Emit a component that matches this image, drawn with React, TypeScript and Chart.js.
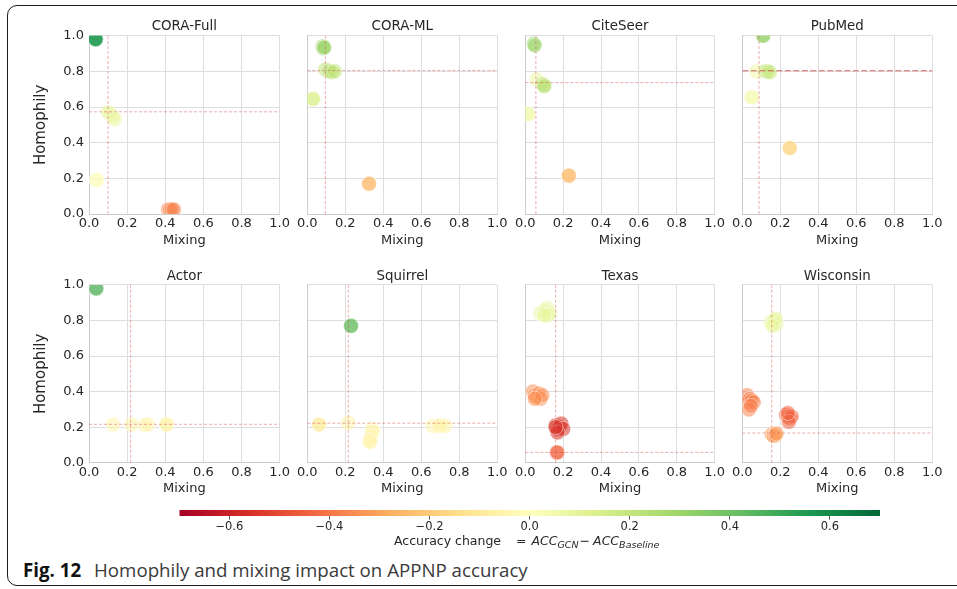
import React, { useEffect, useRef } from "react";
import { Chart, registerables } from "chart.js";
Chart.register(...registerables);

// ---------------- DATA ----------------
const panelTitles = ["CORA-Full", "CORA-ML", "CiteSeer", "PubMed", "Actor", "Squirrel", "Texas", "Wisconsin"];
const axisTicks = [0, 0.2, 0.4, 0.6, 0.8, 1.0];
const colorbarTicks = [-0.6, -0.4, -0.2, 0, 0.2, 0.4, 0.6];
const colorbarMin = -0.7;
const colorbarMax = 0.7;

const meanMixing = [0.1, 0.095, 0.056, 0.088, 0.218, 0.216, 0.16, 0.155];
const meanHomophily = [0.573, 0.805, 0.737, 0.803, 0.216, 0.222, 0.058, 0.167];

const coraFullMixing = [0.035, 0.035, 0.035, 0.10, 0.11, 0.125, 0.135, 0.04, 0.04, 0.415, 0.425, 0.435, 0.445];
const coraFullHomophily = [0.98, 0.98, 0.98, 0.57, 0.565, 0.545, 0.53, 0.19, 0.19, 0.025, 0.025, 0.025, 0.025];
const coraFullChange = [0.55, 0.55, 0.55, 0.10, 0.09, 0.08, 0.07, 0.01, 0.01, -0.37, -0.37, -0.37, -0.37];

const coraMlMixing = [0.08, 0.085, 0.09, 0.095, 0.11, 0.12, 0.13, 0.145, 0.03, 0.03, 0.325, 0.325];
const coraMlHomophily = [0.94, 0.93, 0.935, 0.81, 0.805, 0.80, 0.795, 0.80, 0.645, 0.645, 0.17, 0.17];
const coraMlChange = [0.3, 0.32, 0.3, 0.2, 0.22, 0.25, 0.22, 0.2, 0.13, 0.13, -0.24, -0.24];

const citeSeerMixing = [0.045, 0.05, 0.06, 0.09, 0.1, 0.1, 0.015, 0.015, 0.23, 0.23];
const citeSeerHomophily = [0.955, 0.945, 0.755, 0.73, 0.715, 0.72, 0.56, 0.56, 0.215, 0.215];
const citeSeerChange = [0.3, 0.3, 0.07, 0.2, 0.22, 0.22, 0.06, 0.06, -0.25, -0.25];

const pubMedMixing = [0.11, 0.11, 0.075, 0.12, 0.135, 0.145, 0.05, 0.05, 0.25, 0.25];
const pubMedHomophily = [1.0, 1.0, 0.80, 0.80, 0.80, 0.795, 0.655, 0.655, 0.37, 0.37];
const pubMedChange = [0.32, 0.32, 0.06, 0.2, 0.2, 0.18, 0.04, 0.04, -0.17, -0.17];

const actorMixing = [0.038, 0.038, 0.127, 0.223, 0.293, 0.31, 0.407, 0.407];
const actorHomophily = [0.98, 0.98, 0.215, 0.215, 0.212, 0.215, 0.215, 0.215];
const actorChange = [0.45, 0.45, -0.05, -0.05, -0.05, -0.04, -0.05, -0.05];

const squirrelMixing = [0.23, 0.23, 0.062, 0.062, 0.216, 0.34, 0.345, 0.335, 0.33, 0.33, 0.66, 0.69, 0.70, 0.725];
const squirrelHomophily = [0.77, 0.77, 0.215, 0.215, 0.225, 0.19, 0.175, 0.15, 0.125, 0.115, 0.207, 0.205, 0.21, 0.207];
const squirrelChange = [0.42, 0.42, -0.08, -0.08, -0.06, -0.05, -0.05, -0.06, -0.06, -0.06, -0.05, -0.06, -0.06, -0.05];

const texasMixing = [0.08, 0.10, 0.115, 0.13, 0.12, 0.10, 0.04, 0.05, 0.06, 0.07, 0.08, 0.09, 0.05, 0.16, 0.17, 0.18, 0.19, 0.20, 0.17, 0.16, 0.165, 0.17];
const texasHomophily = [0.84, 0.85, 0.87, 0.84, 0.83, 0.83, 0.40, 0.38, 0.37, 0.39, 0.36, 0.38, 0.36, 0.21, 0.19, 0.20, 0.22, 0.19, 0.17, 0.20, 0.058, 0.058];
const texasChange = [0.08, 0.08, 0.08, 0.08, 0.08, 0.08, -0.35, -0.35, -0.35, -0.35, -0.35, -0.35, -0.35, -0.55, -0.55, -0.55, -0.55, -0.55, -0.55, -0.55, -0.44, -0.44];

const wisconsinMixing = [0.15, 0.17, 0.18, 0.175, 0.16, 0.025, 0.03, 0.04, 0.05, 0.06, 0.035, 0.045, 0.23, 0.24, 0.25, 0.26, 0.245, 0.24, 0.155, 0.165, 0.175, 0.18];
const wisconsinHomophily = [0.79, 0.80, 0.78, 0.81, 0.77, 0.38, 0.34, 0.36, 0.35, 0.34, 0.30, 0.32, 0.27, 0.26, 0.25, 0.26, 0.23, 0.28, 0.16, 0.15, 0.155, 0.165];
const wisconsinChange = [0.08, 0.08, 0.08, 0.08, 0.08, -0.38, -0.38, -0.38, -0.38, -0.38, -0.38, -0.38, -0.44, -0.44, -0.44, -0.44, -0.44, -0.44, -0.32, -0.32, -0.32, -0.32];

const panelMixing = [coraFullMixing, coraMlMixing, citeSeerMixing, pubMedMixing, actorMixing, squirrelMixing, texasMixing, wisconsinMixing];
const panelHomophily = [coraFullHomophily, coraMlHomophily, citeSeerHomophily, pubMedHomophily, actorHomophily, squirrelHomophily, texasHomophily, wisconsinHomophily];
const panelChange = [coraFullChange, coraMlChange, citeSeerChange, pubMedChange, actorChange, squirrelChange, texasChange, wisconsinChange];

// ---------------- STYLE / LAYOUT ----------------
const FONT = "'DejaVu Sans', sans-serif";
const TEXT = "#262626";
const GRID = "#dedede";
const SPINE = "#cccccc";
const REF_LINE = "rgba(215, 70, 70, 0.5)";
const REF_LINE_STRONG = "rgba(200, 50, 50, 0.75)";
const POINT_ALPHA = 0.55;

const COL_LEFT = [89, 307.3, 525.3, 742.3];
const COL_WIDTH = [191, 190, 189.7, 190];
const ROW_TOP = [35.7, 285];
const ROW_HEIGHT = [178.3, 177.7];
const TITLE_H = 18;
const XAXIS_H = 36;
const RIGHT_PAD = 12;

const RDYLGN = ["#a50026", "#d73027", "#f46d43", "#fdae61", "#fee08b", "#ffffbf", "#d9ef8b", "#a6d96a", "#66bd63", "#1a9850", "#006837"];

function hexToRgb(h: string): number[] {
  const n = parseInt(h.slice(1), 16);
  return [(n >> 16) & 255, (n >> 8) & 255, n & 255];
}
const CMAP = RDYLGN.map(hexToRgb);

function cmapRgb(v: number): number[] {
  let t = (v - colorbarMin) / (colorbarMax - colorbarMin);
  t = Math.max(0, Math.min(1, t));
  const pos = t * (CMAP.length - 1);
  const i = Math.min(CMAP.length - 2, Math.floor(pos));
  const f = pos - i;
  return CMAP[i].map((c, k) => c + (CMAP[i + 1][k] - c) * f);
}
function rgba(c: number[], a: number) {
  return `rgba(${Math.round(c[0])},${Math.round(c[1])},${Math.round(c[2])},${a})`;
}

function fmtTick(v: number) {
  const r = Math.round(v * 10) / 10;
  if (r < 0) return "\u2212" + Math.abs(r).toFixed(1);
  return r.toFixed(1);
}

function Panel({ index }: { index: number }) {
  const ref = useRef<HTMLCanvasElement>(null);
  const col = index % 4;
  const row = Math.floor(index / 4);
  const plotLeft = COL_LEFT[col];
  const plotW = COL_WIDTH[col];
  const plotTop = ROW_TOP[row];
  const plotH = ROW_HEIGHT[row];
  const yw = col === 0 ? 69 : 14;
  const cLeft = Math.floor(plotLeft - yw);
  const cTop = Math.floor(plotTop - TITLE_H);
  const cRight = Math.ceil(plotLeft + plotW + RIGHT_PAD);
  const cBottom = Math.ceil(plotTop + plotH + XAXIS_H);
  const w = cRight - cLeft;
  const h = cBottom - cTop;
  const padL = plotLeft - yw - cLeft;
  const padT = plotTop - TITLE_H - cTop;
  const padR = cRight - (plotLeft + plotW);
  const padB = cBottom - (plotTop + plotH + XAXIS_H);

  useEffect(() => {
    const mix = panelMixing[index];
    const hom = panelHomophily[index];
    const chg = panelChange[index];
    const pts = mix.map((x, i) => ({ x, y: hom[i] }));
    const colors = chg.map((c) => rgba(cmapRgb(c), POINT_ALPHA));
    const mm = meanMixing[index];
    const mh = meanHomophily[index];
    const strongH = index === 3;
    const chart = new Chart(ref.current as HTMLCanvasElement, {
      type: "scatter",
      data: {
        datasets: [
          {
            data: [{ x: mm, y: 0 }, { x: mm, y: 1 }],
            showLine: true,
            borderColor: REF_LINE,
            borderWidth: 0.9,
            borderDash: [3, 2],
            pointRadius: 0,
            clip: 0,
          } as any,
          {
            data: [{ x: 0, y: mh }, { x: 1, y: mh }],
            showLine: true,
            borderColor: strongH ? REF_LINE_STRONG : REF_LINE,
            borderWidth: strongH ? 1.1 : 0.9,
            borderDash: strongH ? [6, 2.5] : [3, 2],
            pointRadius: 0,
            clip: 0,
          } as any,
          {
            data: pts,
            pointRadius: 7.5,
            pointBackgroundColor: colors,
            pointBorderColor: "rgba(255,255,255,0.6)",
            pointBorderWidth: 0.8,
            clip: 0,
          } as any,
        ],
      },
      options: {
        animation: false,
        responsive: false,
        maintainAspectRatio: false,
        events: [],
        layout: { padding: { left: padL, top: padT, right: padR, bottom: padB } },
        plugins: {
          legend: { display: false },
          tooltip: { enabled: false },
          title: {
            display: true,
            fullSize: false,
            text: panelTitles[index],
            color: TEXT,
            font: { family: FONT, size: 13.4, weight: "normal" },
            padding: { top: 1, bottom: 0.9 },
          },
        },
        scales: {
          x: {
            type: "linear",
            min: 0,
            max: 1,
            afterBuildTicks: (s: any) => {
              s.ticks = axisTicks.map((v) => ({ value: v }));
            },
            afterFit: (s: any) => {
              s.height = XAXIS_H;
            },
            ticks: {
              callback: (v: any) => fmtTick(Number(v)),
              color: TEXT,
              font: { family: FONT, size: 13 },
              padding: 2,
              maxRotation: 0,
              autoSkip: false,
            },
            grid: { color: GRID, lineWidth: 1, drawTicks: false },
            border: { color: SPINE, width: 1 },
            title: {
              display: true,
              text: "Mixing",
              color: TEXT,
              font: { family: FONT, size: 13 },
              padding: { top: 0, bottom: 2 },
            },
          },
          y: {
            type: "linear",
            min: 0,
            max: 1,
            afterBuildTicks: (s: any) => {
              s.ticks = axisTicks.map((v) => ({ value: v }));
            },
            afterFit: (s: any) => {
              s.width = yw;
            },
            ticks: {
              display: col === 0,
              callback: (v: any) => fmtTick(Number(v)),
              color: TEXT,
              font: { family: FONT, size: 13 },
              padding: 5,
              autoSkip: false,
            },
            grid: { color: GRID, lineWidth: 1, drawTicks: false },
            border: { color: SPINE, width: 1 },
            title: {
              display: col === 0,
              text: "Homophily",
              color: TEXT,
              font: { family: FONT, size: 15 },
              padding: { top: 12.5, bottom: 0 },
            },
          },
        },
      } as any,
    });
    return () => chart.destroy();
  }, []);

  return (
    <canvas
      ref={ref}
      width={w}
      height={h}
      style={{ position: "absolute", left: cLeft, top: cTop, width: w, height: h }}
    />
  );
}

function Colorbar() {
  const ref = useRef<HTMLCanvasElement>(null);
  const cLeft = 159;
  const cTop = 505;
  const w = 741;
  const h = 40;
  useEffect(() => {
    const chart = new Chart(ref.current as HTMLCanvasElement, {
      type: "bar",
      data: {
        labels: [""],
        datasets: [
          {
            data: [[colorbarMin, colorbarMax]],
            backgroundColor: (ctx: any) => {
              const c = ctx.chart;
              if (!c.chartArea) return "transparent";
              const xs = c.scales.x;
              const g = c.ctx.createLinearGradient(xs.getPixelForValue(colorbarMin), 0, xs.getPixelForValue(colorbarMax), 0);
              const n = 41;
              for (let i = 0; i < n; i++) {
                const v = colorbarMin + ((colorbarMax - colorbarMin) * i) / (n - 1);
                g.addColorStop(i / (n - 1), rgba(cmapRgb(v), 1));
              }
              return g;
            },
            borderWidth: 0,
            barPercentage: 1,
            categoryPercentage: 1,
            inflateAmount: 0,
          } as any,
        ],
      },
      options: {
        indexAxis: "y",
        animation: false,
        responsive: false,
        maintainAspectRatio: false,
        events: [],
        layout: { padding: { left: 20.3, right: 20, top: 5, bottom: 0 } },
        plugins: { legend: { display: false }, tooltip: { enabled: false } },
        scales: {
          x: {
            type: "linear",
            min: colorbarMin,
            max: colorbarMax,
            afterBuildTicks: (s: any) => {
              s.ticks = colorbarTicks.map((v) => ({ value: v }));
            },
            afterFit: (s: any) => {
              s.height = 29;
            },
            ticks: {
              callback: (v: any) => fmtTick(Number(v)),
              color: TEXT,
              font: { family: FONT, size: 11.5 },
              padding: 1,
              maxRotation: 0,
              autoSkip: false,
            },
            grid: { drawOnChartArea: false, drawTicks: true, tickLength: 3.5, tickColor: TEXT, tickWidth: 0.8 },
            border: { display: false },
          },
          y: { display: false },
        },
      } as any,
    });
    return () => chart.destroy();
  }, []);
  return (
    <canvas
      ref={ref}
      width={w}
      height={h}
      style={{ position: "absolute", left: cLeft, top: cTop, width: w, height: h }}
    />
  );
}

export default function App() {
  const subStyle: React.CSSProperties = { fontSize: 9.5, fontStyle: "italic", position: "relative", top: 3 };
  return (
    <div
      style={{
        position: "absolute",
        left: 0,
        top: 0,
        width: 957,
        height: 589,
        overflow: "hidden",
        background: "#ffffff",
      }}
    >
      <div
        style={{
          position: "absolute",
          left: 7,
          top: 5,
          width: 1000,
          height: 581,
          border: "1px solid #1a1a1a",
          borderRadius: 10,
          boxSizing: "border-box",
        }}
      />
      {panelTitles.map((_, i) => (
        <Panel key={i} index={i} />
      ))}
      <Colorbar />
      <div
        style={{
          position: "absolute",
          left: 394,
          top: 533,
          fontFamily: FONT,
          fontSize: 12.5,
          lineHeight: "15px",
          whiteSpace: "nowrap",
          color: TEXT,
        }}
      >
        Accuracy change
      </div>
      <div
        style={{
          position: "absolute",
          left: 516,
          top: 533,
          fontFamily: FONT,
          fontSize: 12.5,
          lineHeight: "15px",
          whiteSpace: "nowrap",
          color: TEXT,
        }}
      >
        <span>=</span>
        <span style={{ marginLeft: 5, fontStyle: "italic" }}>ACC</span>
        <span style={subStyle}>GCN</span>
        <span style={{ marginLeft: 1 }}>{"\u2212"}</span>
        <span style={{ marginLeft: 3, fontStyle: "italic" }}>ACC</span>
        <span style={subStyle}>Baseline</span>
      </div>
      <div
        style={{
          position: "absolute",
          left: 23,
          top: 560,
          fontFamily: "'Open Sans', sans-serif",
          fontSize: 18.7,
          lineHeight: "19px",
          whiteSpace: "nowrap",
          color: "#3a3a3a",
        }}
      >
        <b style={{ color: "#111111" }}>Fig. 12</b>
        <span style={{ marginLeft: 13 }}>Homophily and mixing impact on APPNP accuracy</span>
      </div>
    </div>
  );
}
